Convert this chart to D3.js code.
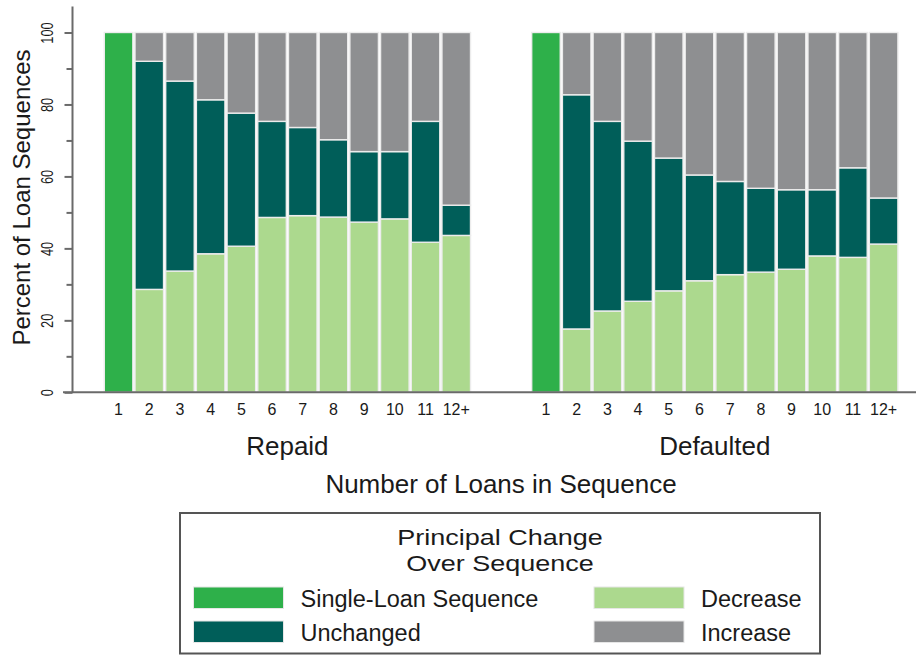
<!DOCTYPE html>
<html>
<head>
<meta charset="utf-8">
<script src="https://cdn.jsdelivr.net/npm/d3@7"></script>
<style>
  html, body { margin: 0; padding: 0; background: #fff; }
  svg { display: block; font-family: "Liberation Sans", Arial, Helvetica, sans-serif; }
</style>
</head>
<body>
<svg id="chart" width="916" height="656"></svg>
<script>
// ---------- data ----------
const categories = ["1","2","3","4","5","6","7","8","9","10","11","12+"];
const panels = ["Repaid", "Defaulted"];
const seriesKeys = ["single", "decrease", "unchanged", "increase"];
const seriesLabels = ["Single-Loan Sequence", "Decrease", "Unchanged", "Increase"];

const repaidSingle    = [100, 0, 0, 0, 0, 0, 0, 0, 0, 0, 0, 0];
const repaidDecrease  = [0, 28.6, 33.7, 38.5, 40.6, 48.6, 49.1, 48.7, 47.3, 48.2, 41.7, 43.6];
const repaidUnchanged = [0, 63.4, 52.8, 42.8, 37.0, 26.7, 24.5, 21.5, 19.6, 18.7, 33.6, 8.4];
const repaidIncrease  = [0, 8.0, 13.5, 18.7, 22.4, 24.7, 26.4, 29.8, 33.1, 33.1, 24.7, 48.0];

const defaultedSingle    = [100, 0, 0, 0, 0, 0, 0, 0, 0, 0, 0, 0];
const defaultedDecrease  = [0, 17.6, 22.6, 25.3, 28.2, 31.0, 32.7, 33.4, 34.2, 37.9, 37.5, 41.2];
const defaultedUnchanged = [0, 65.1, 52.7, 44.5, 36.9, 29.4, 25.9, 23.3, 22.1, 18.4, 24.9, 12.8];
const defaultedIncrease  = [0, 17.3, 24.7, 30.2, 34.9, 39.6, 41.4, 43.3, 43.7, 43.7, 37.6, 46.0];

const yTicks = [0, 10, 20, 30, 40, 50, 60, 70, 80, 90, 100];

// ---------- styles ----------
const colors = {
  single: "#2eb04a",
  unchanged: "#005e59",
  decrease: "#acd98e",
  increase: "#8e8f91"
};
const axisColor = "#6a6a6a";
const textColor = "#1a1a1a";

// ---------- build tables ----------
function rows(single, dec, unch, inc) {
  return categories.map((c, i) => ({
    cat: c, single: single[i], decrease: dec[i], unchanged: unch[i], increase: inc[i]
  }));
}
const panelData = [
  { name: panels[0], rows: rows(repaidSingle, repaidDecrease, repaidUnchanged, repaidIncrease), range: [104.3, 470.5] },
  { name: panels[1], rows: rows(defaultedSingle, defaultedDecrease, defaultedUnchanged, defaultedIncrease), range: [531.7, 897.9] }
];

const svg = d3.select("#chart");
const y = d3.scaleLinear().domain([0, 100]).range([392.3, 32.5]);
const stack = d3.stack().keys(seriesKeys);

// ---------- panels ----------
panelData.forEach(p => {
  const x = d3.scaleBand().domain(categories).range(p.range).paddingInner(0.07).paddingOuter(0);
  const layers = stack(p.rows);
  const g = svg.append("g");
  layers.forEach(layer => {
    g.selectAll(null)
      .data(layer.filter(d => d[1] - d[0] > 0))
      .join("rect")
      .attr("x", d => x(d.data.cat))
      .attr("width", x.bandwidth())
      .attr("y", d => y(d[1]))
      .attr("height", d => y(d[0]) - y(d[1]))
      .attr("fill", colors[layer.key])
      .attr("stroke", "#ececec")
      .attr("stroke-width", 1.4);
  });

  // x tick labels
  const ax = svg.append("g")
    .attr("transform", `translate(0,${y(0)})`)
    .call(d3.axisBottom(x).tickSize(0).tickPadding(11));
  ax.select(".domain").remove();
  ax.selectAll("text")
    .attr("font-size", 16)
    .attr("fill", textColor)
    .attr("font-family", "Liberation Sans, Arial, sans-serif");

  // panel label
  svg.append("text")
    .attr("x", (p.range[0] + p.range[1]) / 2)
    .attr("y", 455)
    .attr("text-anchor", "middle")
    .attr("font-size", 26)
    .attr("fill", textColor)
    .text(p.name);
});

// ---------- baseline ----------
svg.append("line")
  .attr("x1", 63).attr("x2", 916)
  .attr("y1", y(0)).attr("y2", y(0))
  .attr("stroke", axisColor).attr("stroke-width", 2);

// ---------- y axis ----------
const yAxis = svg.append("g")
  .attr("transform", "translate(72.5,0)")
  .call(d3.axisLeft(y).tickValues(yTicks).tickSizeOuter(0)
        .tickFormat(d => d % 20 === 0 ? d : ""));
yAxis.select(".domain")
  .attr("d", `M0,${y(0)}V6.5`)
  .attr("stroke", axisColor).attr("stroke-width", 2);
yAxis.selectAll(".tick line")
  .attr("stroke", axisColor).attr("stroke-width", 2)
  .attr("x2", d => d % 20 === 0 ? -8 : -6);
yAxis.selectAll(".tick text")
  .attr("x", null).attr("dy", null)
  .attr("text-anchor", "middle")
  .attr("transform", "translate(-19.5,0) rotate(-90) scale(0.8,1)")
  .attr("font-size", 16)
  .attr("fill", textColor)
  .attr("font-family", "Liberation Sans, Arial, sans-serif");

svg.append("text")
  .attr("transform", "translate(30,197.5) rotate(-90)")
  .attr("text-anchor", "middle")
  .attr("font-size", 24)
  .attr("fill", textColor)
  .text("Percent of Loan Sequences");

// ---------- x axis title ----------
svg.append("text")
  .attr("x", 501).attr("y", 492.5)
  .attr("text-anchor", "middle")
  .attr("font-size", 26)
  .attr("fill", textColor)
  .text("Number of Loans in Sequence");

// ---------- legend ----------
const lg = svg.append("g");
lg.append("rect")
  .attr("x", 180).attr("y", 513).attr("width", 640).attr("height", 140.5)
  .attr("fill", "#fff").attr("stroke", "#555").attr("stroke-width", 2);
lg.append("text")
  .attr("transform", "translate(500,544.5) scale(1.2,1)")
  .attr("text-anchor", "middle").attr("font-size", 22.5).attr("fill", textColor)
  .text("Principal Change");
lg.append("text")
  .attr("transform", "translate(500,570.5) scale(1.2,1)")
  .attr("text-anchor", "middle").attr("font-size", 22.5).attr("fill", textColor)
  .text("Over Sequence");

const legendItems = [
  { key: seriesKeys[0], label: seriesLabels[0], col: 0, row: 0 },
  { key: seriesKeys[2], label: seriesLabels[2], col: 0, row: 1 },
  { key: seriesKeys[1], label: seriesLabels[1], col: 1, row: 0 },
  { key: seriesKeys[3], label: seriesLabels[3], col: 1, row: 1 }
];
const colX = [193.5, 594];
const rowY = [587, 621];
const li = lg.selectAll(".li").data(legendItems).join("g")
  .attr("transform", d => `translate(${colX[d.col]},${rowY[d.row]})`);
li.append("rect")
  .attr("width", 90).attr("height", 21.5)
  .attr("fill", d => colors[d.key])
  .attr("stroke", "#e6e6e6").attr("stroke-width", 1);
li.append("text")
  .attr("x", 107).attr("y", 19.5)
  .attr("font-size", 23.5).attr("fill", textColor)
  .text(d => d.label);
</script>
</body>
</html>
